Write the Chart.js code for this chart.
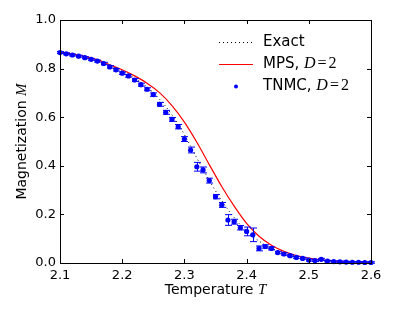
<!DOCTYPE html>
<html>
<head>
<meta charset="utf-8">
<script src="https://cdn.jsdelivr.net/npm/chart.js@4.4.1/dist/chart.umd.min.js"></script>
<style>
  html, body { margin: 0; padding: 0; background: #fff; }
  #wrap { width: 395px; height: 316px; }
</style>
</head>
<body>
<div id="wrap"><canvas id="chart" width="395" height="316"></canvas></div>
<script>
// TNMC samples (D=2) with error bars
const temps = [2.10, 2.11, 2.12, 2.13, 2.14, 2.15, 2.16, 2.17, 2.18, 2.19,
  2.20, 2.21, 2.22, 2.23, 2.24, 2.25, 2.26, 2.27, 2.28, 2.29,
  2.30, 2.31, 2.32, 2.33, 2.34, 2.35, 2.36, 2.37, 2.38, 2.39,
  2.40, 2.41, 2.42, 2.43, 2.44, 2.45, 2.46, 2.47, 2.48, 2.49,
  2.50, 2.51, 2.52, 2.53, 2.54, 2.55, 2.56, 2.57, 2.58, 2.59, 2.60];
const tnmcM = [0.866, 0.861, 0.856, 0.851, 0.845, 0.838, 0.831, 0.821, 0.807, 0.795,
  0.781, 0.770, 0.753, 0.734, 0.715, 0.693, 0.653, 0.620, 0.591, 0.561,
  0.510, 0.465, 0.396, 0.383, 0.339, 0.273, 0.239, 0.177, 0.170, 0.145,
  0.130, 0.116, 0.060, 0.068, 0.060, 0.043, 0.037, 0.030, 0.023, 0.019,
  0.012, 0.010, 0.015, 0.008, 0.006, 0.005, 0.004, 0.003, 0.003, 0.002, 0.002];
const tnmcErr = [0.004, 0.004, 0.004, 0.004, 0.004, 0.004, 0.004, 0.005, 0.005, 0.005,
  0.005, 0.005, 0.006, 0.006, 0.006, 0.007, 0.008, 0.008, 0.008, 0.009,
  0.010, 0.012, 0.018, 0.012, 0.010, 0.009, 0.010, 0.022, 0.010, 0.009,
  0.018, 0.028, 0.010, 0.007, 0.006, 0.005, 0.005, 0.004, 0.004, 0.004,
  0.004, 0.004, 0.004, 0.003, 0.003, 0.003, 0.003, 0.003, 0.003, 0.003, 0.003];

// exact curve
const exactM = [0.867, 0.862, 0.857, 0.851, 0.845, 0.838, 0.831, 0.822, 0.812, 0.801,
  0.789, 0.776, 0.761, 0.744, 0.724, 0.701, 0.674, 0.644, 0.610, 0.572,
  0.528, 0.481, 0.432, 0.385, 0.340, 0.297, 0.257, 0.220, 0.187, 0.157,
  0.131, 0.109, 0.090, 0.074, 0.061, 0.050, 0.041, 0.033, 0.027, 0.022,
  0.018, 0.014, 0.011, 0.009, 0.007, 0.006, 0.005, 0.004, 0.003, 0.002, 0.002];

// MPS curve (D=2)
const mpsT = [2.10, 2.12, 2.14, 2.16, 2.18, 2.20, 2.22, 2.24, 2.26, 2.28, 2.30,
  2.32, 2.34, 2.36, 2.38, 2.40, 2.42, 2.44, 2.46, 2.48, 2.50,
  2.52, 2.54, 2.56, 2.58, 2.60];
const mpsM = [0.869, 0.860, 0.850, 0.837, 0.816, 0.795, 0.770, 0.740, 0.701, 0.648, 0.580,
  0.497, 0.405, 0.315, 0.234, 0.163, 0.110, 0.073, 0.048, 0.031, 0.020,
  0.013, 0.009, 0.006, 0.004, 0.003];

const xTicks = [2.1, 2.2, 2.3, 2.4, 2.5, 2.6];
const yTicks = [0.0, 0.2, 0.4, 0.6, 0.8, 1.0];

const blue = '#0000ff';
const red = '#ff0000';
const mathFont = 'italic 15px "Liberation Serif"';

const errorBars = {
  id: 'errorBars',
  afterDatasetsDraw(chart) {
    const { ctx, scales: { x, y } } = chart;
    ctx.save();
    ctx.strokeStyle = blue;
    ctx.lineWidth = 1;
    temps.forEach((t, i) => {
      const px = Math.round(x.getPixelForValue(t)) + 0.5;
      const top = y.getPixelForValue(tnmcM[i] + tnmcErr[i]);
      const bot = y.getPixelForValue(tnmcM[i] - tnmcErr[i]);
      ctx.beginPath();
      ctx.moveTo(px, top); ctx.lineTo(px, bot);
      ctx.moveTo(px - 3.5, top); ctx.lineTo(px + 3.5, top);
      ctx.moveTo(px - 3.5, bot); ctx.lineTo(px + 3.5, bot);
      ctx.stroke();
    });
    ctx.restore();
  },
};

// matplotlib style frame, inward ticks, axis titles and legend
const frame = {
  id: 'frame',
  afterDraw(chart) {
    const { ctx, chartArea: a, scales: { x, y } } = chart;
    ctx.save();
    ctx.strokeStyle = '#000';
    ctx.lineWidth = 1;
    ctx.beginPath();
    xTicks.forEach((v) => {
      const px = Math.round(x.getPixelForValue(v)) + 0.5;
      ctx.moveTo(px, a.bottom); ctx.lineTo(px, a.bottom - 4);
      ctx.moveTo(px, a.top); ctx.lineTo(px, a.top + 4);
    });
    yTicks.forEach((v) => {
      const py = Math.round(y.getPixelForValue(v)) + 0.5;
      ctx.moveTo(a.left, py); ctx.lineTo(a.left + 4, py);
      ctx.moveTo(a.right, py); ctx.lineTo(a.right - 4, py);
    });
    ctx.stroke();
    ctx.strokeRect(Math.round(a.left) + 0.5, Math.round(a.top) + 0.5,
      Math.round(a.right - a.left), Math.round(a.bottom - a.top));

    // axis titles
    ctx.fillStyle = '#000';
    ctx.textBaseline = 'middle';
    const xt = 'Temperature ';
    ctx.font = '14px "DejaVu Sans"';
    const w1 = ctx.measureText(xt).width;
    ctx.font = mathFont;
    const w2 = ctx.measureText('T').width;
    let sx = (a.left + a.right) / 2 - (w1 + w2) / 2;
    ctx.textAlign = 'left';
    ctx.font = '14px "DejaVu Sans"';
    ctx.fillText(xt, sx, 290);
    ctx.font = mathFont;
    ctx.fillText('T', sx + w1, 290);

    ctx.save();
    ctx.translate(22, (a.top + a.bottom) / 2);
    ctx.rotate(-Math.PI / 2);
    const yt = 'Magnetization ';
    ctx.font = '14px "DejaVu Sans"';
    const w3 = ctx.measureText(yt).width;
    ctx.font = mathFont;
    const w4 = ctx.measureText('M').width;
    sx = -(w3 + w4) / 2;
    ctx.font = '14px "DejaVu Sans"';
    ctx.fillText(yt, sx, 0);
    ctx.font = mathFont;
    ctx.fillText('M', sx + w3, 0);
    ctx.restore();

    // legend
    const lx = 219, tx = 263;
    const rows = [42, 64, 86];
    ctx.strokeStyle = '#000';
    ctx.setLineDash([1, 3]);
    ctx.beginPath(); ctx.moveTo(lx, rows[0] + 0.5); ctx.lineTo(lx + 34, rows[0] + 0.5); ctx.stroke();
    ctx.setLineDash([]);
    ctx.strokeStyle = red;
    ctx.lineWidth = 1.2;
    ctx.beginPath(); ctx.moveTo(lx, rows[1] + 0.5); ctx.lineTo(lx + 34, rows[1] + 0.5); ctx.stroke();
    ctx.fillStyle = blue;
    ctx.beginPath(); ctx.arc(lx + 17, rows[2] + 0.5, 2, 0, Math.PI * 2); ctx.fill();

    ctx.fillStyle = '#000';
    ctx.font = '15px "DejaVu Sans"';
    ctx.fillText('Exact', tx, rows[0]);
    const labels = ['MPS, ', 'TNMC, '];
    labels.forEach((lab, i) => {
      const ry = rows[i + 1];
      ctx.font = '15px "DejaVu Sans"';
      ctx.fillText(lab, tx, ry);
      let cx = tx + ctx.measureText(lab).width;
      ctx.font = 'italic 16px "Liberation Serif"';
      ctx.fillText('D', cx, ry);
      cx += ctx.measureText('D').width + 2;
      ctx.font = '16px "Liberation Serif"';
      ctx.fillText('=', cx, ry);
      cx += ctx.measureText('=').width + 2;
      ctx.fillText('2', cx, ry);
    });
    ctx.restore();
  },
};

new Chart(document.getElementById('chart'), {
  type: 'line',
  data: {
    datasets: [
      {
        label: 'Exact',
        data: temps.map((t, i) => ({ x: t, y: exactM[i] })),
        borderColor: '#000',
        borderWidth: 1,
        borderDash: [1, 3],
        pointRadius: 0,
        cubicInterpolationMode: 'monotone',
        order: 3,
      },
      {
        label: 'MPS, D=2',
        data: mpsT.map((t, i) => ({ x: t, y: mpsM[i] })),
        borderColor: red,
        borderWidth: 1.2,
        pointRadius: 0,
        cubicInterpolationMode: 'monotone',
        order: 2,
      },
      {
        label: 'TNMC, D=2',
        data: temps.map((t, i) => ({ x: t, y: tnmcM[i] })),
        showLine: false,
        pointRadius: 2.6,
        pointBackgroundColor: blue,
        pointBorderColor: blue,
        pointBorderWidth: 0,
        order: 1,
      },
    ],
  },
  options: {
    responsive: false,
    animation: false,
    clip: false,
    layout: { padding: { top: 20, right: 24, left: 0, bottom: 0 } },
    plugins: {
      legend: { display: false },
      tooltip: { enabled: false },
    },
    scales: {
      x: {
        type: 'linear',
        min: 2.1,
        max: 2.6,
        afterBuildTicks: (s) => { s.ticks = xTicks.map((v) => ({ value: v })); },
        afterFit: (s) => { s.height = 53; },
        grid: { display: false, drawTicks: false },
        border: { display: false },
        ticks: {
          padding: 5,
          color: '#000',
          font: { family: 'DejaVu Sans', size: 13 },
          callback: (v) => Number(v).toFixed(1),
        },
      },
      y: {
        min: 0,
        max: 1,
        afterBuildTicks: (s) => { s.ticks = yTicks.map((v) => ({ value: v })); },
        afterFit: (s) => { s.width = 60; },
        grid: { display: false, drawTicks: false },
        border: { display: false },
        ticks: {
          padding: 4,
          color: '#000',
          font: { family: 'DejaVu Sans', size: 13 },
          callback: (v) => Number(v).toFixed(1),
        },
      },
    },
  },
  plugins: [errorBars, frame],
});
</script>
</body>
</html>
